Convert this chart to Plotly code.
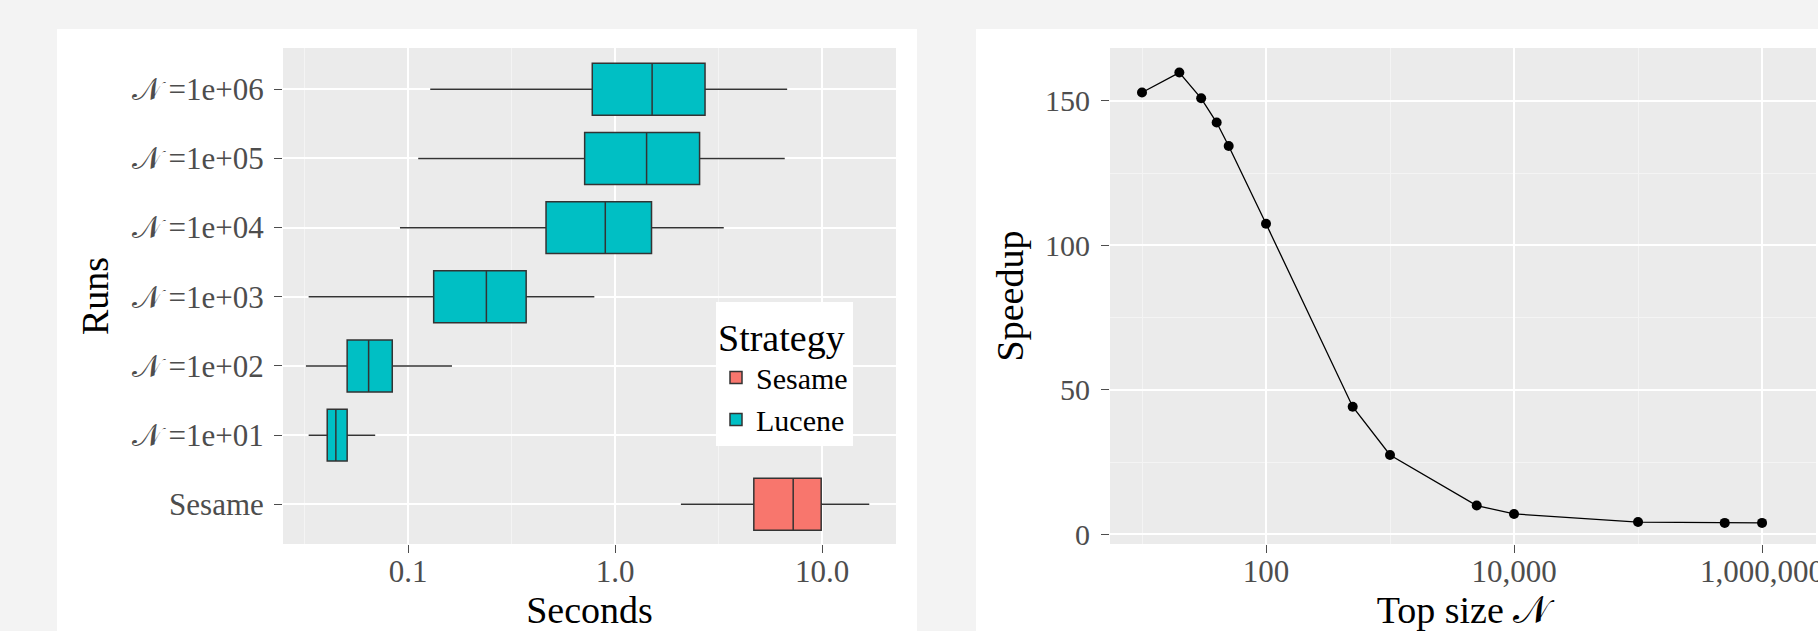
import plotly.graph_objects as go

# ---------------- data ----------------
NS = "𝒩\u2009"  # calligraphic N plus a thin space to avoid glyph overhang
runs = ["Sesame", NS + "=1e+01", NS + "=1e+02", NS + "=1e+03", NS + "=1e+04", NS + "=1e+05", NS + "=1e+06"]

sesame_run = ["Sesame"]
sesame_low = [2.08]
sesame_q1 = [4.68]
sesame_med = [7.25]
sesame_q3 = [9.9]
sesame_high = [16.9]

lucene_runs = runs[1:]
lucene_low = [0.0331, 0.0321, 0.0331, 0.0914, 0.112, 0.128]
lucene_q1 = [0.0407, 0.0508, 0.133, 0.464, 0.713, 0.776]
lucene_med = [0.0448, 0.0645, 0.239, 0.897, 1.42, 1.51]
lucene_q3 = [0.0508, 0.0839, 0.372, 1.50, 2.56, 2.72]
lucene_high = [0.0694, 0.163, 0.794, 3.35, 6.6, 6.78]

top_size = [10, 20, 30, 40, 50, 100, 500, 1000, 5000, 10000, 100000, 500000, 1000000]
speedup = [152.9, 159.8, 150.9, 142.5, 134.4, 107.5, 44.2, 27.5, 10.0, 7.1, 4.3, 4.0, 4.0]

sec_ticks = [0.1, 1, 10]
sec_ticktext = ["0.1", "1.0", "10.0"]
sec_minor = [10 ** -1.5, 10 ** -0.5, 10 ** 0.5]
n_ticks = [100, 10000, 1000000]
n_ticktext = ["100", "10,000", "1,000,000"]
n_minor = [10, 1000, 100000]
sp_ticks = [0, 50, 100, 150]
sp_minor = [25, 75, 125]

# ---------------- style ----------------
W, H = 1818, 631
FONT = "Liberation Serif, DejaVu Serif, serif"
TICKCOL = "#4d4d4d"
PANEL = "#EBEBEB"
LINECOL = "#333333"


def px(x):
    return x / W


def py(y):
    return 1 - y / H


fig = go.Figure()

fig.add_trace(go.Box(
    name="Sesame", y=sesame_run, q1=sesame_q1, median=sesame_med, q3=sesame_q3,
    lowerfence=sesame_low, upperfence=sesame_high, orientation="h",
    fillcolor="#F8766D", line=dict(color=LINECOL, width=1.5), whiskerwidth=0,
    width=0.75, xaxis="x", yaxis="y", boxpoints=False,
))
fig.add_trace(go.Box(
    name="Lucene", y=lucene_runs, q1=lucene_q1, median=lucene_med, q3=lucene_q3,
    lowerfence=lucene_low, upperfence=lucene_high, orientation="h",
    fillcolor="#00BFC4", line=dict(color=LINECOL, width=1.5), whiskerwidth=0,
    width=0.75, xaxis="x", yaxis="y", boxpoints=False,
))

fig.add_trace(go.Scatter(
    x=top_size, y=speedup, mode="lines+markers",
    line=dict(color="black", width=1.3), marker=dict(color="black", size=10),
    xaxis="x2", yaxis="y2", showlegend=False,
))

tickfont = dict(family=FONT, size=31, color=TICKCOL)
titlefont = dict(family=FONT, size=38, color="black")

common = dict(
    showline=False, zeroline=False, ticks="outside", ticklen=8, tickwidth=1.2,
    tickcolor=TICKCOL, gridcolor="white", gridwidth=2,
    automargin=False,
)
minor_style = dict(showgrid=True, gridcolor="#F4F4F4", gridwidth=1, ticks="")

fig.update_layout(
    width=W, height=H,
    margin=dict(l=0, r=0, t=0, b=0),
    paper_bgcolor="#F3F3F3",
    plot_bgcolor=PANEL,
    boxmode="overlay",
    font=dict(family=FONT),
    xaxis=dict(
        type="log", domain=[px(283), px(896)], range=[-1.604, 1.357],
        tickmode="array", tickvals=sec_ticks, ticktext=sec_ticktext,
        minor=dict(tickmode="array", tickvals=sec_minor, **minor_style),
        ticklabelstandoff=-8, tickfont=tickfont,
        title=dict(text="Seconds", font=titlefont, standoff=16),
        anchor="y", **common,
    ),
    yaxis=dict(
        type="category", categoryorder="array", categoryarray=runs,
        domain=[py(544), py(48)], range=[-0.574, 6.597],
        ticklabelstandoff=4, tickfont=tickfont,
        title=dict(text="Runs", font=titlefont, standoff=12),
        anchor="x", **common,
    ),
    xaxis2=dict(
        type="log", domain=[px(1110), px(1816)], range=[0.742, 6.435],
        tickmode="array", tickvals=n_ticks, ticktext=n_ticktext,
        ticklabeloverflow="allow", tickfont=tickfont,
        minor=dict(tickmode="array", tickvals=n_minor, **minor_style),
        ticklabelstandoff=-8,
        title=dict(text="Top size 𝒩", font=titlefont, standoff=16),
        anchor="y2", **common,
    ),
    yaxis2=dict(
        domain=[py(544), py(48)], range=[-3.3, 168.3],
        tickmode="array", tickvals=sp_ticks,
        minor=dict(tickmode="array", tickvals=sp_minor, **minor_style),
        ticklabelstandoff=5, tickfont=dict(family=FONT, size=30, color=TICKCOL),
        title=dict(text="Speedup", font=titlefont, standoff=9),
        anchor="x2", **common,
    ),
    legend=dict(
        x=px(716), y=py(302), xanchor="left", yanchor="top",
        bgcolor="white", borderwidth=0,
        title=dict(text="Strategy", font=dict(family=FONT, size=38, color="black")),
        font=dict(family=FONT, size=30, color="black"),
        tracegroupgap=0,
    ),
    shapes=[
        dict(type="rect", xref="paper", yref="paper", x0=px(57), x1=px(917),
             y0=0, y1=py(29), fillcolor="white", line=dict(width=0), layer="below"),
        dict(type="rect", xref="paper", yref="paper", x0=px(976), x1=1,
             y0=0, y1=py(29), fillcolor="white", line=dict(width=0), layer="below"),
        dict(type="rect", xref="x domain", yref="y domain", x0=0, x1=1, y0=0, y1=1,
             fillcolor=PANEL, line=dict(width=0), layer="below"),
        dict(type="rect", xref="x2 domain", yref="y2 domain", x0=0, x1=1, y0=0, y1=1,
             fillcolor=PANEL, line=dict(width=0), layer="below"),
    ],
)

fig.write_html(
    "out.html",
    config={"displayModeBar": False},
    post_script="document.body.style.margin='0';",
)
